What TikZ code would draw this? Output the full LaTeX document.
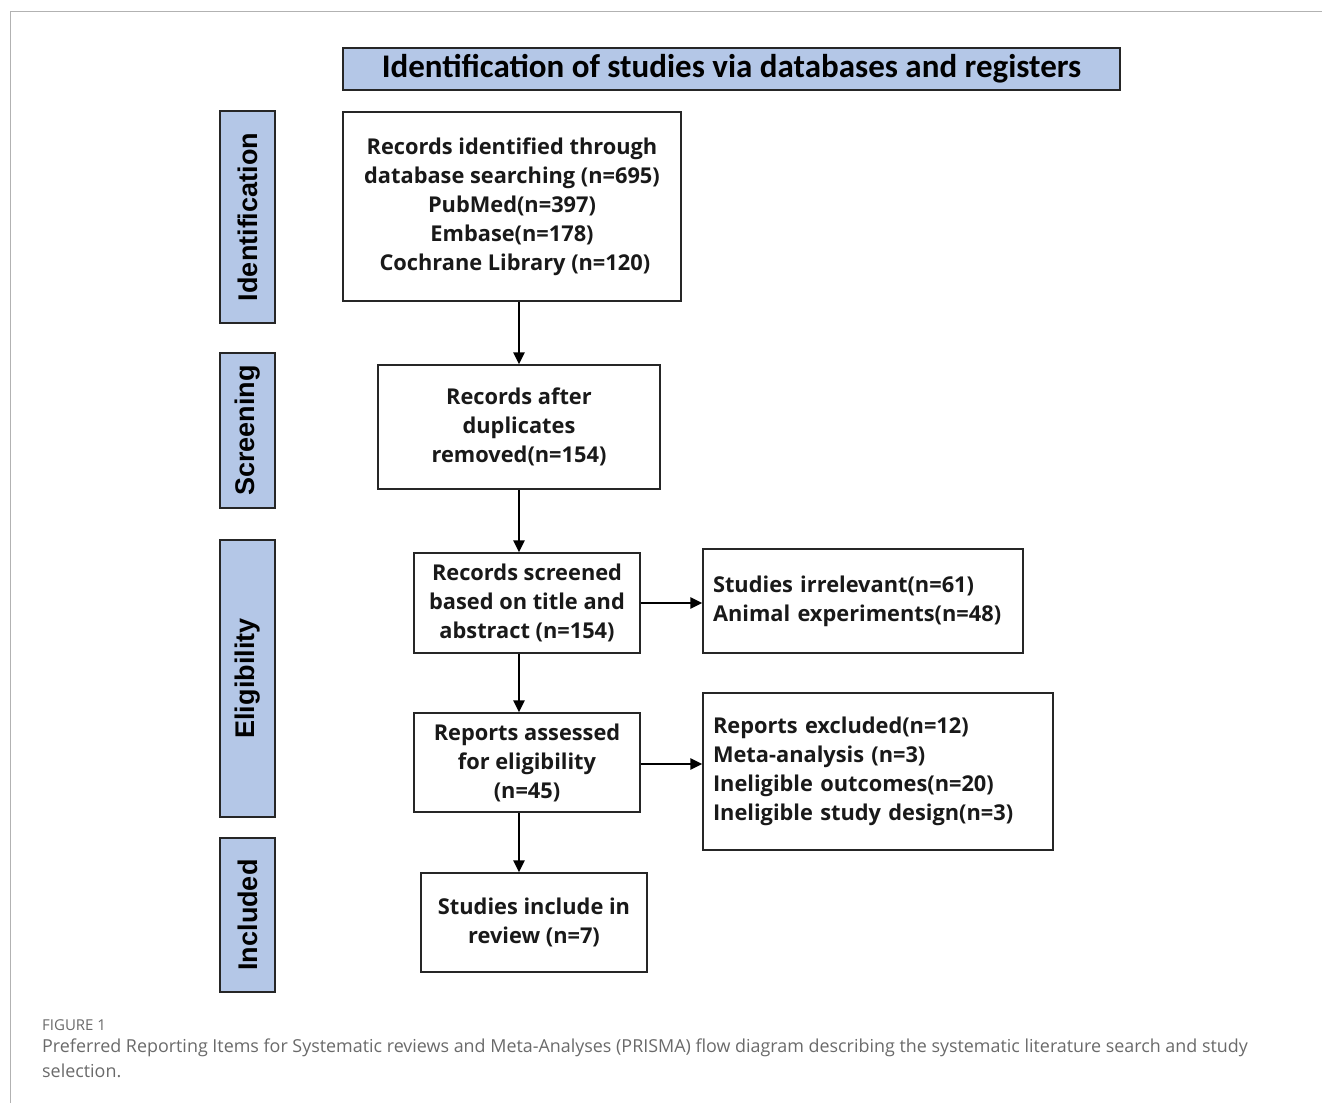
\documentclass[tikz,border=0pt]{standalone}
\usepackage{fontspec}
\setmainfont{Carlito}
\newfontfamily\boxfont{Open Sans}
\newfontfamily\arialfont{Liberation Sans}
\newfontfamily\capfont{Open Sans}
\usetikzlibrary{arrows.meta}
\definecolor{hdr}{HTML}{B4C7E7}
\definecolor{capgray}{HTML}{6A6A6A}
\begin{document}
\begin{tikzpicture}[x=1pt,y=-1pt,
  box/.style={draw=black!85,line width=1.3pt,inner sep=0pt,text=black!90,font=\boxfont\bfseries\fontsize{21.8}{29}\selectfont,align=center},
  lbox/.style={box,align=left,inner xsep=10pt},
  side/.style={draw=black!85,fill=hdr,line width=1.6pt,inner sep=0pt,rotate=90,minimum height=55pt,font=\arialfont\bfseries\fontsize{27}{30}\selectfont},
  arr/.style={line width=2.3pt,-{Triangle[length=12pt,width=11pt]}},
  captxt/.style={anchor=west,inner sep=0pt,text=capgray,font=\capfont\fontsize{17.9}{23}\selectfont}]
\useasboundingbox (0,0) rectangle (1322,1103);
\draw[black!30,line width=1pt] (10,1103) -- (10,11) -- (1322,11);
% header
\node[draw=black!85,fill=hdr,line width=1.3pt,minimum width=777pt,minimum height=42pt,inner sep=0pt,font=\bfseries\fontsize{33}{36}\selectfont] (title) at (731.5,69) {Identification of studies via databases and registers};
% side labels
\node[side,minimum width=212pt] (sid) at (247.5,217) {Identification};
\node[side,minimum width=155pt] (sscr) at (247.5,430.5) {Screening};
\node[side,minimum width=277pt] (selig) at (247.5,678.5) {Eligibility};
\node[side,minimum width=154pt] (sinc) at (247.5,915) {Included};
% main boxes
\node[box,minimum width=338pt,minimum height=189pt] (b1) at (512,206.5) {Records identified through\\database searching (n=695)\\PubMed(n=397)\\Embase(n=178)\\\ Cochrane Library (n=120)};
\node[box,minimum width=282pt,minimum height=124pt] (b2) at (519,427) {Records after\\duplicates\\removed(n=154)};
\node[box,minimum width=226pt,minimum height=100pt] (b3) at (527,603) {Records screened\\based on title and\\abstract (n=154)};
\node[box,minimum width=226pt,minimum height=99pt] (b4) at (527,762.5) {Reports assessed\\for eligibility\\(n=45)};
\node[box,minimum width=226pt,minimum height=99pt] (b5) at (534,922.5) {Studies include in\\review (n=7)};
\node[lbox,text width=300pt,minimum height=104pt] (e1) at (863,601) {Studies irrelevant(n=61)\\Animal experiments(n=48)};
\node[lbox,text width=330pt,minimum height=157pt] (e2) at (878,771.5) {Reports excluded(n=12)\\Meta-analysis (n=3)\\Ineligible outcomes(n=20)\\Ineligible study design(n=3)};
% arrows
\coordinate (spine) at (519,0);
\draw[arr] (b1.south -| spine) -- (b2.north -| spine);
\draw[arr] (b2.south -| spine) -- (b3.north -| spine);
\draw[arr] (b3.south -| spine) -- (b4.north -| spine);
\draw[arr] (b4.south -| spine) -- (b5.north -| spine);
\draw[arr] (b3.east) -- (e1.west |- b3.east);
\draw[arr] (b4.east |- 0,764) -- (e2.west |- 0,764);
% caption
\node[captxt,font=\capfont\fontsize{15}{18}\selectfont] (fig) at (42,1025) {FIGURE 1};
\node[captxt] (c1) at (42,1048) {Preferred Reporting Items for Systematic reviews and Meta-Analyses (PRISMA) flow diagram describing the systematic literature search and study};
\node[captxt] (c2) at (42,1071) {selection.};
\end{tikzpicture}
\end{document}
